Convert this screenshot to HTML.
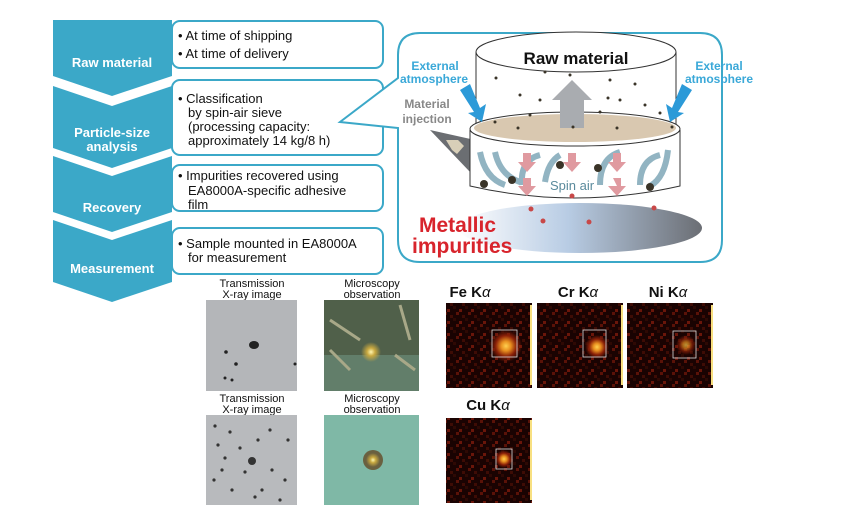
<!DOCTYPE html>
<html><head><meta charset="utf-8"><style>
html,body{margin:0;padding:0;background:#fff;}
svg{display:block;font-family:"Liberation Sans",Arial,sans-serif;}
</style></head><body>
<svg width="845" height="529" viewBox="0 0 845 529" xmlns="http://www.w3.org/2000/svg">
<defs>
<linearGradient id="floor" x1="0" x2="1" y1="0" y2="0">
<stop offset="0" stop-color="#fff"/><stop offset="0.45" stop-color="#b8cce4"/><stop offset="1" stop-color="#6b6e74"/></linearGradient>
<radialGradient id="hot" cx="0.5" cy="0.5" r="0.5">
<stop offset="0" stop-color="#ffd050"/><stop offset="0.3" stop-color="#e89020"/><stop offset="0.65" stop-color="#8a2008"/><stop offset="1" stop-color="#8a2008" stop-opacity="0"/></radialGradient>
<pattern id="speck" width="12" height="12" patternUnits="userSpaceOnUse">
<rect width="12" height="12" fill="#1a0302"/><rect x="0" y="0" width="3" height="3" fill="#5a1208"/><rect x="6" y="3" width="3" height="3" fill="#3e0c05"/><rect x="3" y="9" width="3" height="3" fill="#6a160a"/><rect x="9" y="6" width="3" height="3" fill="#2e0904"/></pattern>
<radialGradient id="glow" cx="0.5" cy="0.5" r="0.5"><stop offset="0" stop-color="#fff6b0"/><stop offset="0.4" stop-color="#c8a840"/><stop offset="1" stop-color="#c8a840" stop-opacity="0"/></radialGradient>
</defs>

<!-- Chevrons -->
<g fill="#3ba8c8">
<polygon points="53,20 172,20 172,76 112,96 53,76"/>
<polygon points="53,86 112,106 172,86 172,148 112,168 53,148"/>
<polygon points="53,156 112,176 172,156 172,212 112,232 53,212"/>
<polygon points="53,220 112,240 172,220 172,282 112,302 53,282"/>
</g>
<g fill="#fff" font-weight="bold" font-size="13" text-anchor="middle">
<text x="112" y="67">Raw material</text>
<text x="112" y="137">Particle-size</text><text x="112" y="151">analysis</text>
<text x="112" y="212">Recovery</text>
<text x="112" y="273">Measurement</text>
</g>

<!-- text boxes -->
<g fill="#fff" stroke="#3ba8c8" stroke-width="2">
<rect x="172" y="21" width="211" height="47" rx="8"/>
<rect x="172" y="80" width="211" height="75" rx="8"/>
<rect x="172" y="165" width="211" height="46" rx="8"/>
<rect x="172" y="228" width="211" height="46" rx="8"/>
</g>
<g font-size="13" fill="#111">
<text x="178" y="40">• At time of shipping</text>
<text x="178" y="58">• At time of  delivery</text>
<text x="178" y="103">• Classification</text>
<text x="188" y="117">by spin-air sieve</text>
<text x="188" y="131">(processing capacity:</text>
<text x="188" y="145">approximately 14 kg/8 h)</text>
<text x="178" y="180">• Impurities recovered using</text>
<text x="188" y="195">EA8000A-specific adhesive</text>
<text x="188" y="209">film</text>
<text x="178" y="248">• Sample mounted in EA8000A</text>
<text x="188" y="262">for measurement</text>
</g>

<!-- right panel -->
<path d="M420,33 L700,33 Q722,33 722,55 L722,240 Q722,262 700,262 L420,262 Q398,262 398,240 L398,128 L340,122 L398,78 L398,55 Q398,33 420,33 Z" fill="#fff" stroke="#3ba8c8" stroke-width="2"/>

<ellipse cx="580" cy="228" rx="122" ry="25" fill="url(#floor)"/>
<polygon points="430,130 475,140 470,172" fill="#6b6e72"/>
<polygon points="446,140 458,140 464,146 457,154 452,150" fill="#d8cfb8"/>
<path d="M476,52 L476,126 M676,52 L676,126" stroke="#333" stroke-width="1"/>
<ellipse cx="576" cy="52" rx="100" ry="20" fill="#fff" stroke="#333" stroke-width="1"/>
<path d="M470,130 L470,186 Q574,210 680,186 L680,130" fill="#fff" stroke="#333" stroke-width="1"/>
<ellipse cx="575" cy="129" rx="105" ry="17" fill="#fff" stroke="#333"/>
<ellipse cx="575" cy="128" rx="101" ry="14" fill="#d9c8b0"/>
<polygon points="560,128 560,100 552,100 572,80 592,100 584,100 584,128" fill="#a9acb0"/>
<g fill="none" stroke="#7fa8b8" stroke-width="6" opacity="0.85">
<path d="M480,152 Q485,178 505,185"/><path d="M495,152 Q500,175 520,182"/>
<path d="M522,185 Q520,160 540,155"/><path d="M600,185 Q600,158 620,152"/>
<path d="M640,185 Q640,160 660,155"/><path d="M668,150 Q665,178 650,186"/>
<path d="M545,182 Q548,162 560,155"/>
</g>
<g fill="#e09aa0">
<polygon points="523,153 531,153 531,162 536,162 527,172 518,162 523,162"/>
<polygon points="568,153 576,153 576,162 581,162 572,172 563,162 568,162"/>
<polygon points="613,153 621,153 621,162 626,162 617,172 608,162 613,162"/>
<polygon points="523,178 531,178 531,186 536,186 527,196 518,186 523,186"/>
<polygon points="613,178 621,178 621,186 626,186 617,196 608,186 617,186"/>
</g>
<text x="572" y="190" font-size="13" fill="#5a8a9c" text-anchor="middle">Spin air</text>
<g fill="#3a3428">
<circle cx="496" cy="78" r="1.5"/><circle cx="545" cy="72" r="1.5"/><circle cx="570" cy="75" r="1.5"/><circle cx="610" cy="80" r="1.5"/><circle cx="635" cy="84" r="1.5"/><circle cx="520" cy="95" r="1.5"/><circle cx="540" cy="100" r="1.5"/><circle cx="608" cy="98" r="1.5"/><circle cx="620" cy="100" r="1.5"/><circle cx="645" cy="105" r="1.5"/><circle cx="530" cy="115" r="1.5"/><circle cx="600" cy="112" r="1.5"/><circle cx="660" cy="113" r="1.5"/><circle cx="518" cy="128" r="1.5"/><circle cx="573" cy="127" r="1.5"/><circle cx="617" cy="128" r="1.5"/><circle cx="672" cy="127" r="1.5"/><circle cx="495" cy="122" r="1.5"/>
<circle cx="560" cy="165" r="4"/><circle cx="598" cy="168" r="4"/><circle cx="512" cy="180" r="4"/><circle cx="484" cy="184" r="4"/><circle cx="650" cy="187" r="4"/>
</g>
<g fill="#c84848"><circle cx="531" cy="209" r="2.5"/><circle cx="543" cy="221" r="2.5"/><circle cx="589" cy="222" r="2.5"/><circle cx="654" cy="208" r="2.5"/><circle cx="572" cy="196" r="2.5"/></g>
<polygon points="460,90 470,84 480,108 486,104 482,122 468,113 474,112" fill="#2c9ad8"/>
<polygon points="692,90 682,84 672,108 666,104 670,122 684,113 678,112" fill="#2c9ad8"/>
<text x="576" y="64" font-size="17" font-weight="bold" text-anchor="middle" fill="#111">Raw material</text>
<g font-size="12" font-weight="bold" fill="#3aa8d8" text-anchor="middle">
<text x="435" y="70">External</text><text x="434" y="83">atmosphere</text>
<text x="719" y="70">External</text><text x="719" y="83">atmosphere</text>
</g>
<g font-size="12" font-weight="bold" fill="#888" text-anchor="middle">
<text x="427" y="108">Material</text><text x="427" y="123">injection</text></g>
<g font-size="21" font-weight="bold" fill="#d8242c">
<text x="419" y="232">Metallic</text><text x="412" y="253">impurities</text></g>

<g font-size="11" text-anchor="middle" fill="#111">
<text x="252" y="287">Transmission</text><text x="252" y="298">X-ray image</text>
<text x="372" y="287">Microscopy</text><text x="372" y="298">observation</text>
<text x="252" y="402">Transmission</text><text x="252" y="413">X-ray image</text>
<text x="372" y="402">Microscopy</text><text x="372" y="413">observation</text>
</g>
<g font-size="15" font-weight="bold" text-anchor="middle" fill="#111">
<text x="470" y="297">Fe K<tspan font-style="italic" font-weight="normal">α</tspan></text>
<text x="578" y="297">Cr K<tspan font-style="italic" font-weight="normal">α</tspan></text>
<text x="668" y="297">Ni K<tspan font-style="italic" font-weight="normal">α</tspan></text>
<text x="488" y="410">Cu K<tspan font-style="italic" font-weight="normal">α</tspan></text>
</g>

<rect x="206" y="300" width="91" height="91" fill="#b4b6b9"/>
<g fill="#222"><ellipse cx="254" cy="345" rx="5" ry="4"/><circle cx="226" cy="352" r="1.8"/><circle cx="236" cy="364" r="1.8"/><circle cx="225" cy="378" r="1.5"/><circle cx="232" cy="380" r="1.5"/><circle cx="295" cy="364" r="1.5"/></g>
<rect x="324" y="300" width="95" height="91" fill="#50604a"/>
<rect x="324" y="355" width="95" height="36" fill="#6a8c78" opacity="0.7"/>
<path d="M330,320 L360,340 M400,305 L410,340 M330,350 L350,370 M395,355 L415,370" stroke="#a8a888" stroke-width="3"/>
<circle cx="371" cy="352" r="10" fill="url(#glow)"/>
<rect x="206" y="415" width="91" height="90" fill="#b8babd"/>
<g fill="#333"><circle cx="252" cy="461" r="4"/><circle cx="215" cy="426" r="1.6"/><circle cx="230" cy="432" r="1.6"/><circle cx="218" cy="445" r="1.6"/><circle cx="225" cy="458" r="1.6"/><circle cx="240" cy="448" r="1.6"/><circle cx="245" cy="472" r="1.6"/><circle cx="258" cy="440" r="1.6"/><circle cx="270" cy="430" r="1.6"/><circle cx="272" cy="470" r="1.6"/><circle cx="285" cy="480" r="1.6"/><circle cx="262" cy="490" r="1.6"/><circle cx="232" cy="490" r="1.6"/><circle cx="214" cy="480" r="1.6"/><circle cx="255" cy="497" r="1.6"/><circle cx="280" cy="500" r="1.6"/><circle cx="288" cy="440" r="1.6"/><circle cx="222" cy="470" r="1.6"/></g>
<rect x="324" y="415" width="95" height="90" fill="#7fb8a6"/>
<circle cx="373" cy="460" r="10" fill="#6a6040"/><circle cx="373" cy="460" r="7" fill="url(#glow)"/>

<g>
<rect x="446" y="303" width="86" height="85" fill="url(#speck)"/><circle cx="506" cy="346" r="16" fill="url(#hot)"/><rect x="492" y="330" width="25" height="27" fill="none" stroke="#ddd" stroke-width="0.8"/><rect x="530" y="305" width="2" height="80" fill="#f8e080"/>
<rect x="537" y="303" width="86" height="85" fill="url(#speck)"/><circle cx="597" cy="347" r="12" fill="url(#hot)"/><rect x="583" y="330" width="23" height="27" fill="none" stroke="#ddd" stroke-width="0.8"/><rect x="621" y="305" width="2" height="80" fill="#f8e080"/>
<rect x="627" y="303" width="86" height="85" fill="url(#speck)"/><circle cx="686" cy="345" r="10" fill="url(#hot)" opacity="0.7"/><rect x="673" y="331" width="23" height="27" fill="none" stroke="#ddd" stroke-width="0.8"/><rect x="711" y="305" width="2" height="80" fill="#f8e080"/>
<rect x="446" y="418" width="86" height="85" fill="url(#speck)"/><circle cx="504" cy="459" r="9" fill="url(#hot)"/><rect x="496" y="449" width="16" height="20" fill="none" stroke="#ddd" stroke-width="0.8"/><rect x="530" y="420" width="2" height="80" fill="#f8e080"/>
</g>
</svg>
</body></html>
